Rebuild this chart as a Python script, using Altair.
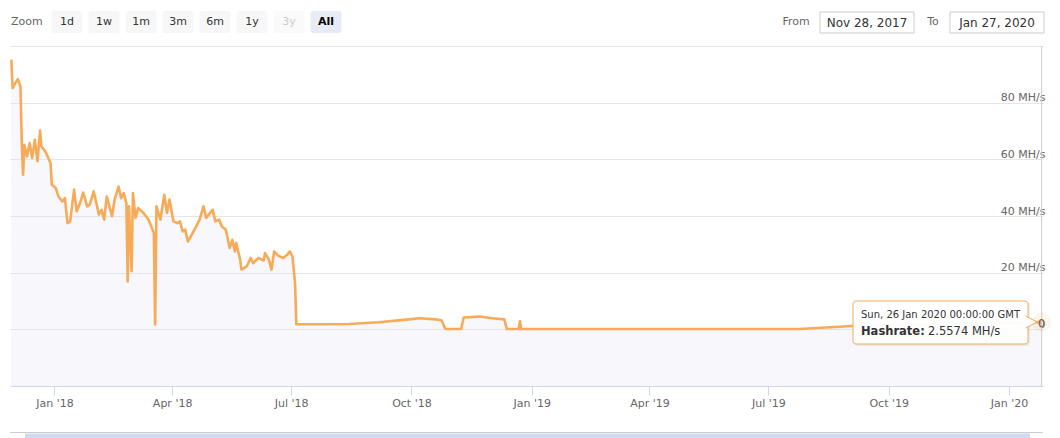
import altair as alt
import pandas as pd

# ---------------- data ----------------
dates = [
    "2017-11-29", "2017-11-30", "2017-12-02", "2017-12-04", "2017-12-06", "2017-12-07",
    "2017-12-08", "2017-12-09", "2017-12-11", "2017-12-13", "2017-12-15", "2017-12-17",
    "2017-12-19", "2017-12-21", "2017-12-22", "2017-12-25", "2017-12-29", "2017-12-30",
    "2018-01-02", "2018-01-04", "2018-01-07", "2018-01-09", "2018-01-11", "2018-01-13",
    "2018-01-16", "2018-01-18", "2018-01-21", "2018-01-23", "2018-01-26", "2018-01-28",
    "2018-01-31", "2018-02-04", "2018-02-06", "2018-02-08", "2018-02-10", "2018-02-14",
    "2018-02-16", "2018-02-19", "2018-02-21", "2018-02-23", "2018-02-25", "2018-02-26",
    "2018-02-27", "2018-03-01", "2018-03-02", "2018-03-04", "2018-03-06", "2018-03-10",
    "2018-03-14", "2018-03-18", "2018-03-19", "2018-03-20", "2018-03-23", "2018-03-26",
    "2018-03-28", "2018-03-30", "2018-04-02", "2018-04-05", "2018-04-07", "2018-04-09",
    "2018-04-11", "2018-04-13", "2018-04-16", "2018-04-20", "2018-04-22", "2018-04-25",
    "2018-04-27", "2018-04-30", "2018-05-02", "2018-05-04", "2018-05-07", "2018-05-09",
    "2018-05-12", "2018-05-15", "2018-05-17", "2018-05-19", "2018-05-20", "2018-05-23",
    "2018-05-24", "2018-05-28", "2018-05-31", "2018-06-02", "2018-06-06", "2018-06-10",
    "2018-06-11", "2018-06-14", "2018-06-16", "2018-06-18", "2018-06-21", "2018-06-25",
    "2018-06-28", "2018-06-30", "2018-07-02", "2018-07-04", "2018-07-05", "2018-07-30",
    "2018-08-14", "2018-09-06", "2018-09-29", "2018-10-07", "2018-10-20", "2018-10-24",
    "2018-10-27", "2018-11-08", "2018-11-10", "2018-11-22", "2018-12-02", "2018-12-11",
    "2018-12-13", "2018-12-22", "2018-12-23", "2018-12-24", "2019-07-25", "2019-09-03",
    "2020-01-26",
]
hashrate = [
    95.2, 85.1, 86.9, 88.3, 85.7, 65.7,
    54.6, 65.1, 61.0, 65.7, 60.5, 66.9,
    59.3, 70.2, 64.6, 62.8, 58.7, 51.0,
    49.9, 46.9, 45.1, 46.3, 37.5, 38.1,
    49.3, 41.6, 45.1, 48.3, 43.4, 44.0,
    48.7, 40.5, 42.2, 38.7, 46.9, 39.9,
    45.8, 50.4, 46.3, 48.1, 44.6, 16.9,
    43.4, 20.5, 48.1, 39.3, 42.8, 41.1,
    38.7, 34.0, 1.7, 43.4, 38.7, 47.5,
    41.1, 45.8, 38.1, 37.5, 38.1, 34.6,
    35.2, 31.0, 33.4, 36.9, 38.7, 43.4,
    39.3, 41.1, 42.2, 38.1, 38.7, 36.3,
    35.2, 28.7, 31.6, 27.5, 30.5, 24.6,
    21.1, 22.2, 25.2, 23.4, 25.2, 24.3,
    26.9, 24.6, 21.1, 27.5, 26.0, 25.2,
    26.3, 27.5, 25.7, 16.4, 1.8, 1.8,
    1.9, 2.5, 3.5, 3.9, 3.5, 3.2,
    0.1, 0.1, 4.2, 4.5, 3.9, 3.5,
    0.1, 0.1, 2.9, 0.1, 0.1, 1.2,
    2.5574,
]
x_tick_dates = ["2018-01-01", "2018-04-01", "2018-07-01", "2018-10-01",
                "2019-01-01", "2019-04-01", "2019-07-01", "2019-10-01", "2020-01-01"]
y_ticks = [0, 20, 40, 60, 80, 100]
x_domain = ["2017-11-28", "2020-01-27"]
y_domain = [-20, 100]
zoom_buttons = ["1d", "1w", "1m", "3m", "6m", "1y", "3y", "All"]
from_label = "Nov 28, 2017"
to_label = "Jan 27, 2020"
hover_date = ["2020-01-26"]
hover_value = [2.5574]
hover_header = "Sun, 26 Jan 2020 00:00:00 GMT"
series_name = "Hashrate:"

# ---------------- styling ----------------
FONT = "DejaVu Sans"
ORANGE = "#f7aa58"
W, H = 1033, 340


def dt(s):
    y, m, d = (int(v) for v in s.split("-"))
    return alt.DateTime(year=y, month=m, date=d, utc=True)


df = pd.DataFrame({"date": dates, "hashrate": hashrate})
hover_df = pd.DataFrame({"date": hover_date, "hashrate": hover_value})
one = pd.DataFrame({"k": [0]})

x_scale = alt.Scale(type="utc", domain=[dt(s) for s in x_domain])
y_scale = alt.Scale(domain=y_domain, nice=False, zero=False)

x_axis = alt.Axis(
    values=[dt(s) for s in x_tick_dates], format="%b '%y", title=None, grid=False,
    domainColor="#ccd6eb", tickColor="#ccd6eb", tickSize=9, labelPadding=2,
    labelColor="#666666", labelFontSize=11, labelFont=FONT, labelFlush=False,
)
y_axis = alt.Axis(
    orient="right", values=y_ticks, title=None, domain=False, ticks=False, tickSize=0,
    labelAlign="right", labelPadding=2, labelBaseline="alphabetic", labelOffset=-2,
    labelColor="#666666", labelFontSize=11, labelFont=FONT, gridColor="#e6e6e6",
    labelExpr="datum.value == 100 ? '' : (datum.value == 0 ? '0' : datum.label + ' MH/s')",
)

X = alt.X("date:T", scale=x_scale, axis=x_axis)
Y = alt.Y("hashrate:Q", scale=y_scale, axis=y_axis)

area = alt.Chart(df).mark_area(color="#dcdcf0", opacity=0.22).encode(
    x=X, y=Y, y2=alt.datum(-20)
)
line = alt.Chart(df).mark_line(color=ORANGE, strokeWidth=2.6, strokeJoin="round").encode(x=X, y=Y)

crosshair = alt.Chart(hover_df).mark_rule(color="#cccccc", strokeWidth=1).encode(
    x=alt.X("date:T", scale=x_scale), y=alt.value(0), y2=alt.value(H)
)
halo = alt.Chart(hover_df).mark_circle(size=380, color=ORANGE, opacity=0.12).encode(
    x=alt.X("date:T", scale=x_scale), y=alt.Y("hashrate:Q", scale=y_scale)
)

# tooltip (page coords minus plot origin at 10, 46)
tip_shadow = alt.Chart(one).mark_rect(fill="#000000", fillOpacity=0.06, cornerRadius=3).encode(
    x=alt.value(844), x2=alt.value(1020), y=alt.value(256), y2=alt.value(300)
)
tip_box = alt.Chart(one).mark_rect(fill="white", fillOpacity=0.96, stroke=ORANGE,
                                    strokeWidth=1, cornerRadius=3).encode(
    x=alt.value(843), x2=alt.value(1018), y=alt.value(255), y2=alt.value(298)
)
tip_arrow = alt.Chart(one).mark_point(
    shape="M-0.4,-1L1.5,0L-0.4,1", filled=True, fill="white", stroke=ORANGE,
    strokeWidth=1, size=144, opacity=1, fillOpacity=1,
).encode(x=alt.value(1018), y=alt.value(276))
tip_header = alt.Chart(one).mark_text(align="left", baseline="alphabetic", fontSize=10,
                                      font=FONT, color="#333333").encode(
    x=alt.value(851), y=alt.value(272), text=alt.value(hover_header)
)
tip_name = alt.Chart(one).mark_text(align="left", baseline="alphabetic", fontSize=11.5,
                                    font=FONT, fontWeight="bold", color="#333333").encode(
    x=alt.value(851), y=alt.value(289), text=alt.value(series_name)
)
tip_value = alt.Chart(one).mark_text(align="left", baseline="alphabetic", fontSize=11.5,
                                     font=FONT, color="#333333").encode(
    x=alt.value(918), y=alt.value(289), text=alt.value(f"{hover_value[0]} MH/s")
)
zero_label = alt.Chart(one).mark_text(align="right", baseline="alphabetic", fontSize=11,
                                      font=FONT, color="#666666").encode(
    x=alt.value(W + 2), y=alt.value(H * 100 / 120 - 2), text=alt.value("0")
)

# range selector (top row)
decor = []
decor.append(alt.Chart(one).mark_text(align="left", baseline="middle", fontSize=11,
                                      font=FONT, color="#666666").encode(
    x=alt.value(1), y=alt.value(-24), text=alt.value("Zoom")))
for i, lab in enumerate(zoom_buttons):
    cx = 57 + 37 * i
    selected = lab == "All"
    disabled = lab == "3y"
    decor.append(alt.Chart(one).mark_rect(
        fill="#e6ebf5" if selected else "#f7f7f7", cornerRadius=2,
        fillOpacity=0.6 if disabled else 1).encode(
        x=alt.value(cx - 15.5), x2=alt.value(cx + 15.5), y=alt.value(-35), y2=alt.value(-13)))
    decor.append(alt.Chart(one).mark_text(
        align="center", baseline="middle", fontSize=11, font=FONT,
        fontWeight="bold" if selected else "normal",
        color="#cccccc" if disabled else ("#000000" if selected else "#333333")).encode(
        x=alt.value(cx), y=alt.value(-24), text=alt.value(lab)))

decor.append(alt.Chart(one).mark_text(align="center", baseline="middle", fontSize=11,
                                      font=FONT, color="#666666").encode(
    x=alt.value(786), y=alt.value(-24), text=alt.value("From")))
decor.append(alt.Chart(one).mark_text(align="center", baseline="middle", fontSize=11,
                                      font=FONT, color="#666666").encode(
    x=alt.value(923), y=alt.value(-24), text=alt.value("To")))
for x0, lab in [(810, from_label), (940, to_label)]:
    decor.append(alt.Chart(one).mark_rect(fill="white", stroke="#cccccc", strokeWidth=1).encode(
        x=alt.value(x0), x2=alt.value(x0 + 94), y=alt.value(-34), y2=alt.value(-13)))
    decor.append(alt.Chart(one).mark_text(align="center", baseline="middle", fontSize=12,
                                          font=FONT, color="#333333").encode(
        x=alt.value(x0 + 47), y=alt.value(-23.5), text=alt.value(lab)))

# navigator strip (top edge only is visible)
nav_line = alt.Chart(one).mark_rule(color="#cccccc", strokeWidth=1).encode(
    x=alt.value(0), x2=alt.value(W), y=alt.value(H + 46.5))
nav_mask = alt.Chart(one).mark_rect(fill="#cddcf2").encode(
    x=alt.value(15), x2=alt.value(1020), y=alt.value(H + 47.5), y2=alt.value(H + 60))

chart = alt.layer(
    area, line, crosshair, halo, tip_shadow, tip_box, tip_arrow, tip_header, tip_name,
    tip_value, zero_label, nav_line, nav_mask, *decor
).properties(
    width=W, height=H,
    padding={"left": 2, "top": 38, "right": 8, "bottom": 52},
    autosize=alt.AutoSizeParams(type="none"),
    background="white",
).configure_view(strokeWidth=0)

chart.save("out.html", embed_options={"renderer": "svg", "actions": False})
